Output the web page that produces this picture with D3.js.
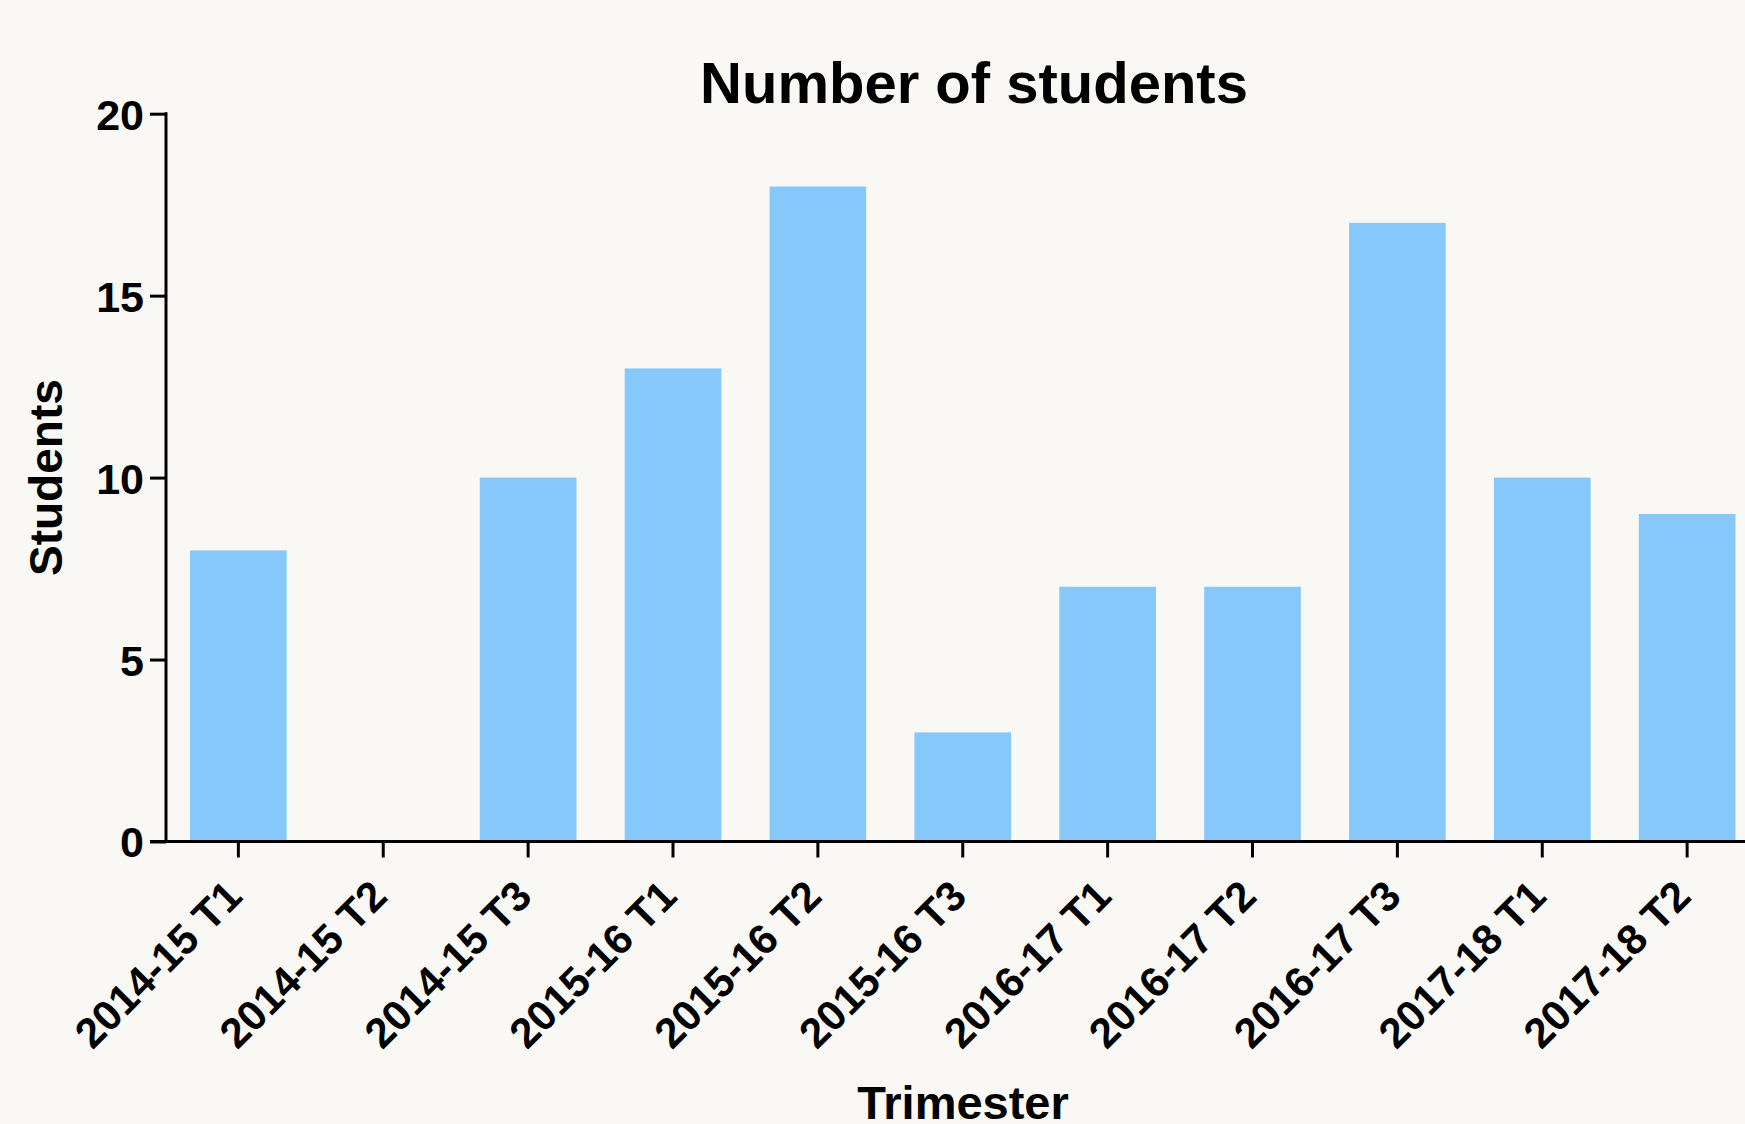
<!DOCTYPE html>
<html>
<head>
<meta charset="utf-8">
<script src="https://cdn.jsdelivr.net/npm/d3@7"></script>
<style>
  html, body { margin: 0; padding: 0; background: #F9F8F4; }
  svg { display: block; }
  text { font-family: "Liberation Sans", Arial, Helvetica, sans-serif; font-weight: bold; fill: #000; }
</style>
</head>
<body>
<svg id="chart" width="1745" height="1124"></svg>
<script>
const categories = ["2014-15 T1", "2014-15 T2", "2014-15 T3", "2015-16 T1", "2015-16 T2", "2015-16 T3",
                    "2016-17 T1", "2016-17 T2", "2016-17 T3", "2017-18 T1", "2017-18 T2"];
const students = [8, 0, 10, 13, 18, 3, 7, 7, 17, 10, 9];
const yTicks = [0, 5, 10, 15, 20];
const chartTitle = "Number of students";
const xTitle = "Trimester";
const yTitle = "Students";

const W = 1745, H = 1124;
const svg = d3.select("#chart");
svg.append("rect").attr("width", W).attr("height", H).attr("fill", "#F9F8F4");

const axisX = 166, axisY = 841.5, topY = 113.7;
const sw = 3;

const x = d3.scaleBand().domain(categories).range([axisX, 1759.5])
  .paddingInner(0.333).paddingOuter(0.166);
const y = d3.scaleLinear().domain([0, 20]).range([axisY, topY]);

// bars
svg.append("g").selectAll("rect").data(students).join("rect")
  .attr("x", (d, i) => x(categories[i]))
  .attr("y", d => y(d))
  .attr("width", x.bandwidth())
  .attr("height", d => y(0) - y(d))
  .attr("fill", "#87C8FB");

// y axis
const gy = svg.append("g").attr("transform", `translate(${axisX},0)`)
  .call(d3.axisLeft(y).tickValues(yTicks).tickSize(16).tickPadding(6).tickSizeOuter(0));
gy.select(".domain").attr("stroke", "#000").attr("stroke-width", sw)
  .attr("d", `M0,${topY - sw / 2}V${axisY + sw / 2}`);
gy.selectAll(".tick line").attr("stroke", "#000").attr("stroke-width", sw);
gy.selectAll(".tick text").style("font-size", "43px").attr("dy", "0.36em");

// x axis
const gx = svg.append("g").attr("transform", `translate(0,${axisY})`)
  .call(d3.axisBottom(x).tickSize(16).tickSizeOuter(0));
gx.select(".domain").attr("stroke", "#000").attr("stroke-width", sw)
  .attr("d", `M${axisX - 16},0H${W}`);
gx.selectAll(".tick line").attr("stroke", "#000").attr("stroke-width", sw);
gx.selectAll(".tick text")
  .style("font-size", "42px")
  .attr("text-anchor", "end")
  .attr("x", 0).attr("y", 0).attr("dy", 0)
  .attr("transform", "translate(6,57) rotate(-45)");

// title
svg.append("text").attr("x", 974).attr("y", 103).attr("text-anchor", "middle")
  .style("font-size", "58px").text(chartTitle);

// x axis title
svg.append("text").attr("x", 963).attr("y", 1119).attr("text-anchor", "middle")
  .style("font-size", "47px").text(xTitle);

// y axis title
svg.append("text").attr("transform", `translate(62,${(axisY + topY) / 2}) rotate(-90)`)
  .attr("text-anchor", "middle").style("font-size", "46px").text(yTitle);
</script>
</body>
</html>
